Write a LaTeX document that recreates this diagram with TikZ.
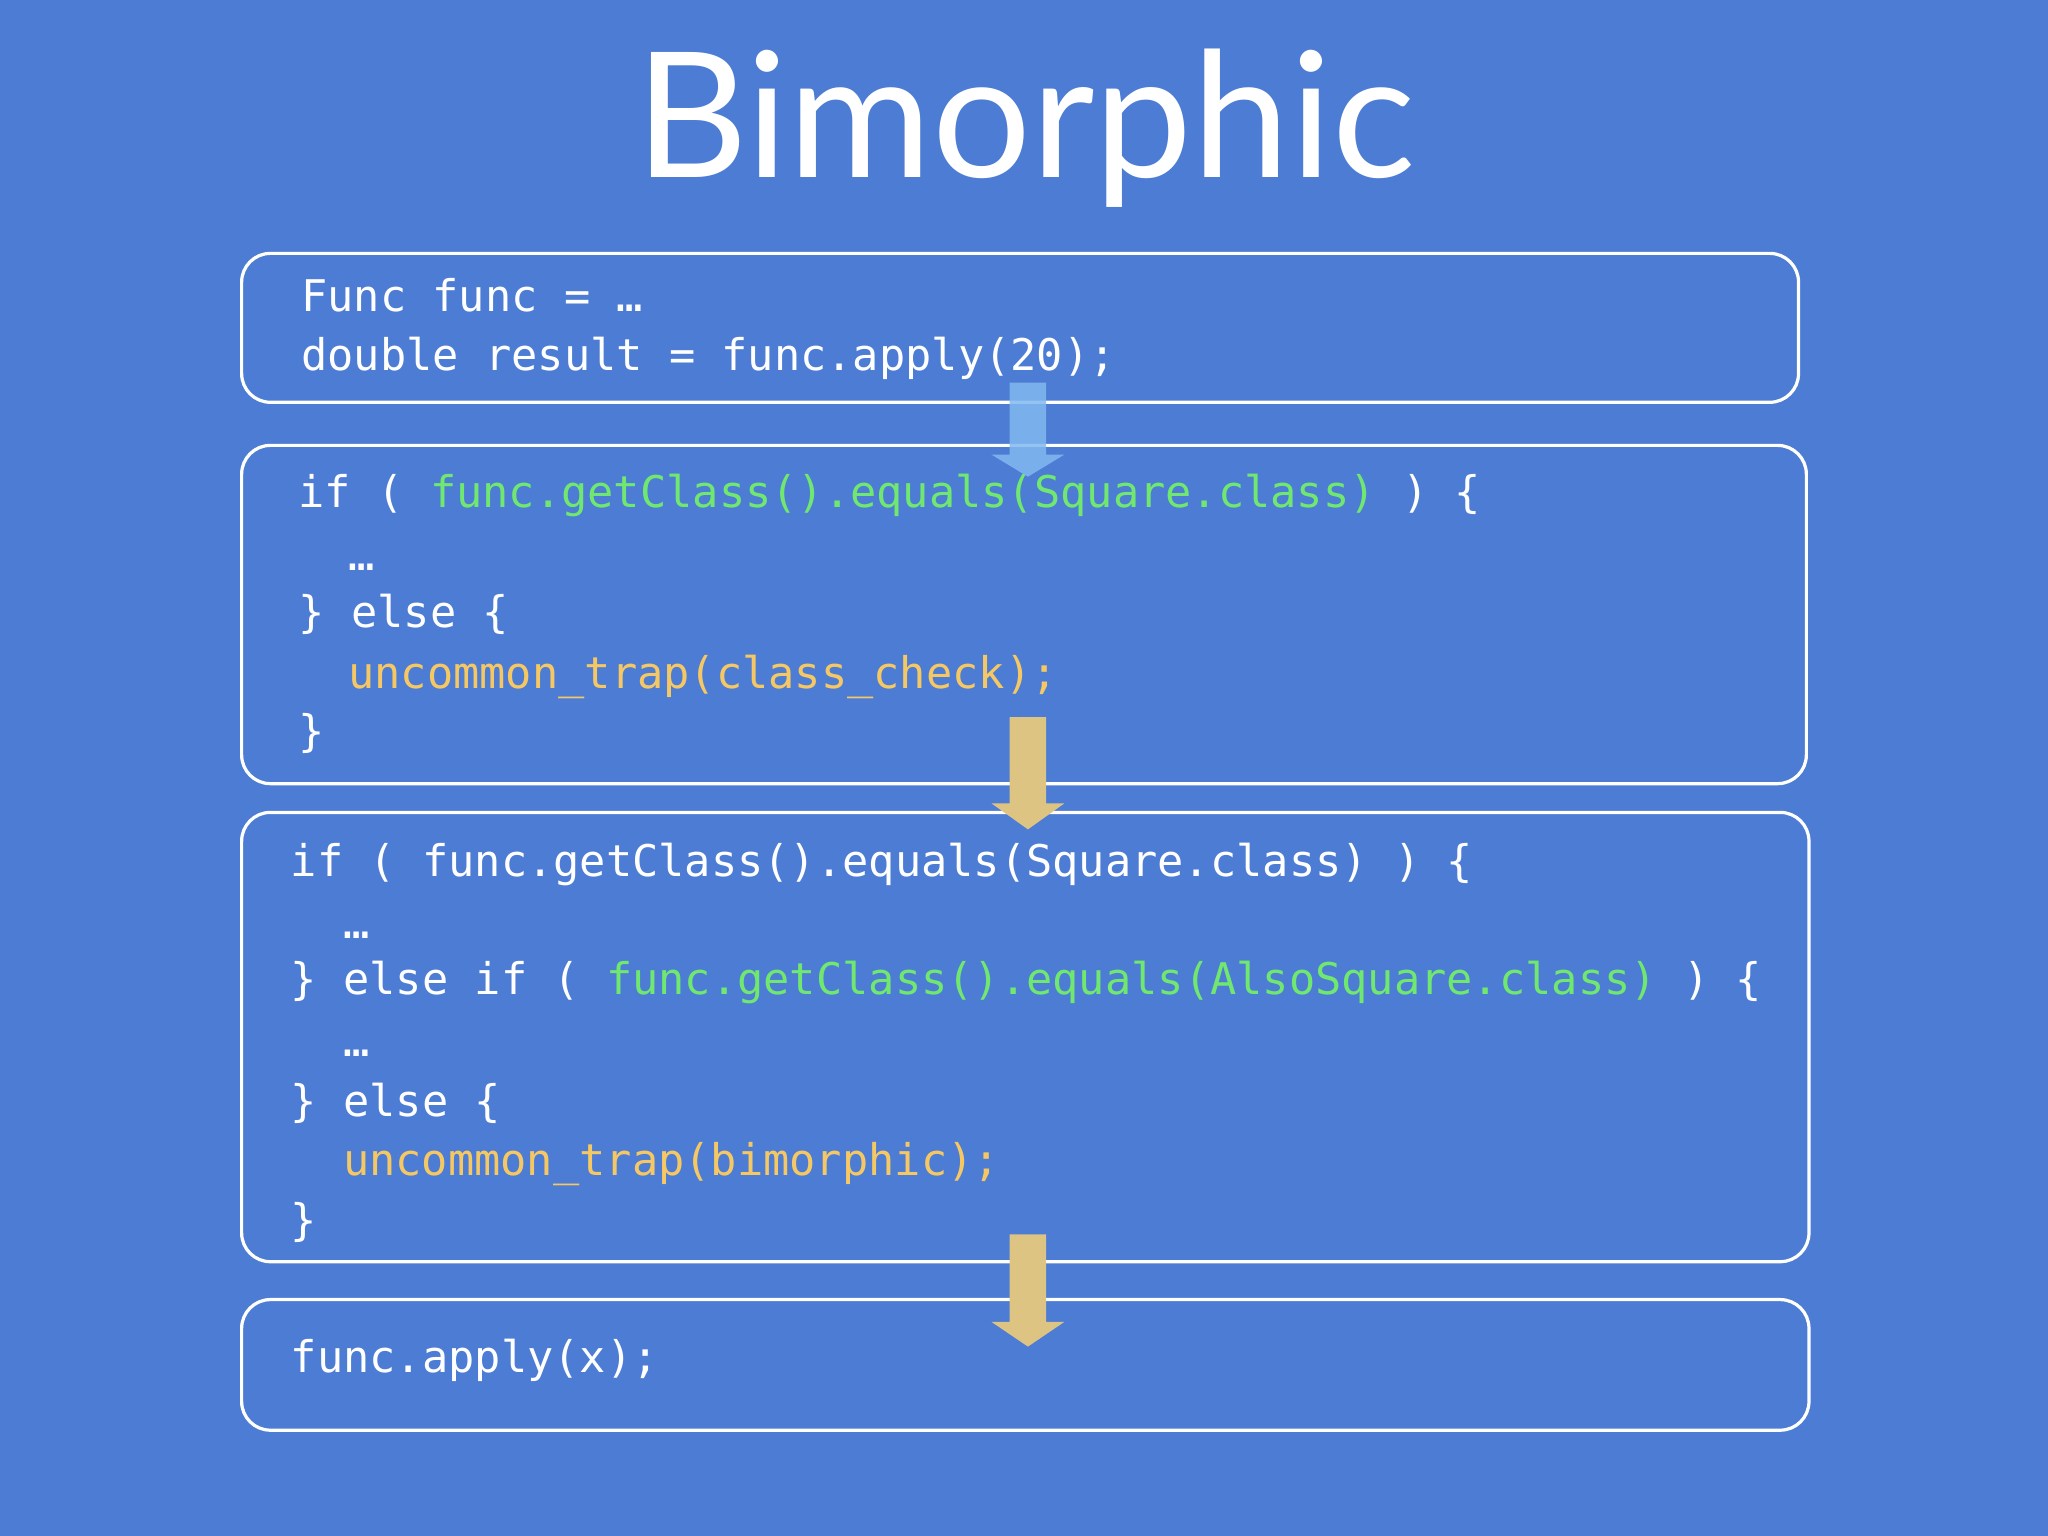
\documentclass[tikz,border=0pt]{standalone}
\usepackage{fontspec}
\setmonofont{DejaVu Sans Mono}
\newfontfamily\titlefont{Lato}
\definecolor{bg}{RGB}{76,124,212}
\definecolor{cgreen}{RGB}{112,232,112}
\definecolor{cyel}{RGB}{245,200,100}
\definecolor{tan}{RGB}{222,196,130}
\definecolor{lblue}{RGB}{130,185,240}
\begin{document}
\begin{tikzpicture}[x=0.01cm,y=-0.01cm,
  box/.style={draw=white,line width=0.7pt,rounded corners=0.22cm},
  code/.style={anchor=west,inner sep=0pt,text=white,font=\ttfamily\fontsize{9.5pt}{11pt}\selectfont,text height=0.7em,text depth=0.2em}]
\fill[bg] (0,0) rectangle (1568,1176);
\node[text=white,font=\titlefont\fontsize{38pt}{40pt}\selectfont] (title) at (785,98) {Bimorphic};
\draw[box] (185,194) rectangle (1377,308);
\draw[box] (185,341) rectangle (1383,600);
\draw[box] (185,622) rectangle (1385,966);
\draw[box] (185,995) rectangle (1385,1095);
% box1
\node[code] (a1) at (230,230) {Func func = …};
\node[code] (a2) at (230,275) {double result = func.apply(20);};
% box2
\node[code] (b1) at (228,380) {if ( \textcolor{cgreen}{func.getClass().equals(Square.class)} ) \{};
\node[code] (b2) at (266,428) {…};
\node[code] (b3) at (228,472) {\} else \{};
\node[code] (b4) at (266,518) {\textcolor{cyel}{uncommon\_trap(class\_check);}};
\node[code] (b5) at (228,563) {\}};
% box3
\node[code] (c1) at (222,662) {if ( func.getClass().equals(Square.class) ) \{};
\node[code] (c2) at (262,710) {…};
\node[code] (c3) at (222,753) {\} else if ( \textcolor{cgreen}{func.getClass().equals(AlsoSquare.class)} ) \{};
\node[code] (c4) at (262,800) {…};
\node[code] (c5) at (222,846) {\} else \{};
\node[code] (c6) at (262,891) {\textcolor{cyel}{uncommon\_trap(bimorphic);}};
\node[code] (c7) at (222,937) {\}};
% box4
\node[code] (d1) at (222,1042) {func.apply(x);};
% arrows
\fill[lblue,opacity=0.85] (773,293) -- (801,293) -- (801,348) -- (815,348) -- (787,365) -- (759,348) -- (773,348) -- cycle;
\fill[tan] (773,549) -- (801,549) -- (801,615) -- (815,615) -- (787,635) -- (759,615) -- (773,615) -- cycle;
\fill[tan] (773,945) -- (801,945) -- (801,1012) -- (815,1012) -- (787,1031) -- (759,1012) -- (773,1012) -- cycle;
\end{tikzpicture}
\end{document}
